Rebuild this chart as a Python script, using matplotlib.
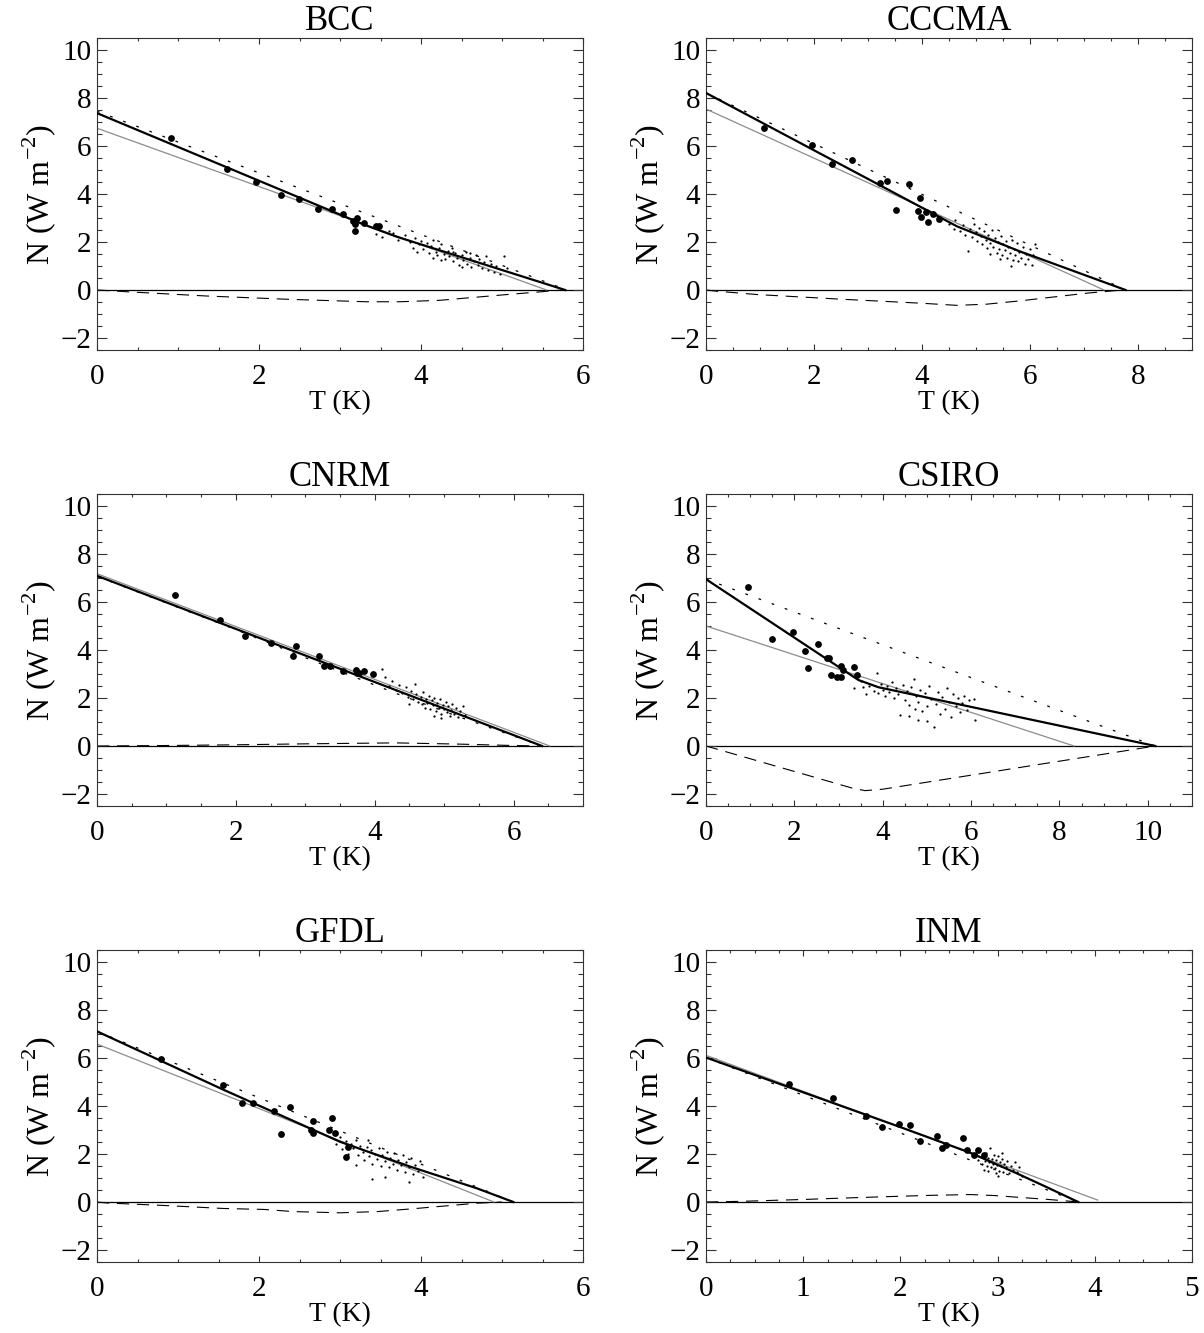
"""Six-panel N vs T regression plots (CMIP-style abrupt4xCO2 fits)."""

import matplotlib.pyplot as plt
from matplotlib.ticker import MultipleLocator

plt.rcParams["font.family"] = ["Liberation Serif", "DejaVu Serif"]
plt.rcParams["axes.unicode_minus"] = True
plt.rcParams["mathtext.fontset"] = "custom"
plt.rcParams["mathtext.rm"] = "Liberation Serif"

# ---- data, (T [K], N [W m-2]) pairs ----

BCC_FIT = [(0, 7.37), (3.3, 2.72), (3.7, 2.22), (5.78, 0)]
BCC_GRAY = [(0, 6.74), (5.55, 0)]
BCC_DOTTED = [(0, 7.45), (5.8, 0)]
BCC_DASHED = [(0, 0), (0.41, -0.08), (1.35, -0.25), (2.38, -0.39), (3.33, -0.49),
              (3.74, -0.49), (4.23, -0.43), (5.06, -0.19), (5.75, 0)]
BCC_BIG = [(0.91, 6.34), (1.60, 5.03), (1.96, 4.49), (2.27, 3.96), (2.49, 3.80),
           (2.73, 3.36), (2.90, 3.36), (3.04, 3.16), (3.21, 3.02), (3.16, 2.89),
           (3.18, 2.75), (3.19, 2.47), (3.30, 2.79), (3.44, 2.65), (3.48, 2.67)]
BCC_SMALL = [(3.45, 2.35), (3.52, 2.2), (3.6, 2.45), (3.66, 2.38), (3.72, 2.1), (3.8, 2.28),
             (3.86, 1.98), (3.9, 1.75), (3.93, 2.15), (3.97, 1.9), (4.0, 2.05), (4.03, 1.7),
             (4.07, 1.95), (4.1, 1.55), (4.12, 1.82), (4.15, 2.1), (4.18, 1.6), (4.2, 1.45),
             (4.22, 1.75), (4.25, 1.9), (4.28, 1.5), (4.3, 1.3), (4.33, 1.62), (4.35, 1.4),
             (4.38, 1.75), (4.4, 1.2), (4.42, 1.55), (4.45, 1.35), (4.47, 1.05), (4.5, 1.45),
             (4.52, 1.25), (4.55, 1.6), (4.57, 1.1), (4.6, 1.35), (4.62, 0.95), (4.65, 1.2),
             (4.68, 1.45), (4.7, 1.05), (4.72, 1.3), (4.75, 0.9), (4.78, 1.15), (4.8, 1.4),
             (4.83, 0.85), (4.86, 1.1), (4.9, 0.75), (4.93, 1.0), (4.97, 0.65), (5.02, 1.42),
             (5.06, 0.9), (4.6, 1.55), (4.4, 1.6), (4.15, 1.35), (3.95, 1.6), (4.5, 0.95),
             (4.25, 1.25)]

CCCMA_FIT = [(0, 8.21), (3.4, 4.15), (4.65, 2.65), (5.8, 1.62), (7.77, 0)]
CCCMA_GRAY = [(0, 7.54), (7.37, 0)]
CCCMA_DOTTED = [(0, 8.21), (7.77, 0)]
CCCMA_DASHED = [(0, 0), (0.2, -0.05), (0.95, -0.19), (1.75, -0.29), (2.56, -0.39),
                (3.36, -0.48), (3.98, -0.55), (4.65, -0.64), (5.2, -0.59), (5.83, -0.45),
                (6.44, -0.29), (7.06, -0.13), (7.56, -0.03), (7.77, 0)]
CCCMA_BIG = [(1.08, 6.76), (1.96, 6.06), (2.33, 5.23), (2.70, 5.40), (3.22, 4.45),
             (3.35, 4.53), (3.75, 4.41), (3.52, 3.33), (3.96, 3.82), (3.93, 3.28),
             (3.98, 3.05), (4.07, 3.26), (4.21, 3.18), (4.11, 2.83), (4.31, 2.94)]
CCCMA_SMALL = [(4.5, 2.75), (4.6, 2.55), (4.62, 2.9), (4.7, 2.45), (4.75, 2.7), (4.8, 2.3),
               (4.85, 1.64), (4.88, 2.55), (4.92, 2.2), (4.96, 2.75), (5.0, 2.4), (5.02, 2.05),
               (5.06, 2.6), (5.1, 2.25), (5.12, 1.9), (5.15, 2.45), (5.18, 2.1), (5.2, 1.75),
               (5.23, 2.3), (5.26, 1.95), (5.3, 2.5), (5.32, 1.8), (5.35, 2.15), (5.38, 1.55),
               (5.4, 2.0), (5.43, 1.7), (5.46, 2.25), (5.48, 1.45), (5.5, 1.9), (5.53, 1.65),
               (5.56, 2.05), (5.58, 1.35), (5.6, 1.8), (5.63, 1.55), (5.66, 2.1), (5.68, 1.25),
               (5.7, 1.7), (5.73, 1.45), (5.76, 1.95), (5.78, 1.2), (5.8, 1.6), (5.84, 1.35),
               (5.87, 1.8), (5.9, 1.1), (5.93, 1.5), (5.96, 1.3), (6.0, 1.7), (6.03, 1.05),
               (6.06, 1.45), (6.1, 1.9), (5.45, 1.3), (5.25, 1.5), (5.65, 1.0)]

CNRM_FIT = [(0, 7.09), (6.41, 0)]
CNRM_GRAY = [(0, 7.18), (6.52, 0)]
CNRM_DOTTED = [(0, 7.07), (2.0, 4.85), (3.0, 3.68), (4.3, 2.2), (5.2, 1.23), (6.41, 0)]
CNRM_DASHED = [(0, 0), (1.0, 0.02), (2.0, 0.05), (3.0, 0.09), (4.3, 0.13), (5.2, 0.08),
               (6.0, 0.02), (6.41, 0)]
CNRM_BIG = [(1.13, 6.30), (1.77, 5.27), (2.13, 4.60), (2.50, 4.30), (2.87, 4.18),
            (2.83, 3.76), (3.20, 3.76), (3.27, 3.34), (3.35, 3.33), (3.54, 3.14),
            (3.73, 3.16), (3.75, 3.03), (3.78, 3.05), (3.84, 3.11), (3.98, 3.02)]
CNRM_SMALL = [(4.1, 3.2), (4.15, 2.86), (4.2, 2.5), (4.25, 2.7), (4.3, 2.35), (4.35, 2.55),
              (4.4, 2.2), (4.45, 2.45), (4.48, 2.05), (4.52, 2.3), (4.55, 1.95), (4.58, 2.6),
              (4.6, 2.15), (4.63, 1.85), (4.66, 2.05), (4.68, 1.75), (4.7, 2.25), (4.72, 1.6),
              (4.74, 1.95), (4.76, 1.8), (4.78, 2.1), (4.8, 1.55), (4.82, 1.9), (4.84, 1.7),
              (4.86, 2.0), (4.88, 1.45), (4.9, 1.8), (4.92, 1.6), (4.94, 1.95), (4.96, 1.35),
              (4.98, 1.7), (5.0, 1.55), (5.02, 1.85), (5.04, 1.4), (5.06, 1.65), (5.08, 1.25),
              (5.1, 1.5), (5.12, 1.75), (5.14, 1.35), (5.17, 1.6), (5.2, 1.2), (5.23, 1.45),
              (5.27, 1.65), (5.3, 1.3), (4.95, 1.15), (4.85, 1.25), (4.5, 1.75)]

CSIRO_FIT = [(0, 6.95), (3.45, 2.75), (3.9, 2.45), (10.17, 0)]
CSIRO_GRAY = [(0, 5.0), (8.33, 0)]
CSIRO_DOTTED = [(0, 6.95), (10.17, 0)]
CSIRO_DASHED = [(0, 0), (3.3, -1.75), (3.6, -1.86), (4.0, -1.8), (10.17, 0)]
CSIRO_BIG = [(0.96, 6.62), (1.50, 4.45), (1.96, 4.75), (2.25, 3.94), (2.31, 3.24),
             (2.54, 4.25), (2.73, 3.65), (2.79, 3.68), (2.83, 2.95), (2.96, 2.89),
             (3.05, 2.89), (3.05, 3.32), (3.09, 3.17), (3.36, 3.30), (3.41, 2.95)]
CSIRO_SMALL = [(3.36, 2.41), (3.5, 2.7), (3.55, 2.45), (3.63, 2.17), (3.7, 2.5), (3.8, 2.3),
               (3.88, 3.06), (3.9, 2.2), (3.95, 2.6), (4.0, 2.35), (4.05, 2.1), (4.1, 2.5),
               (4.15, 2.25), (4.2, 2.65), (4.25, 2.0), (4.3, 2.4), (4.35, 2.15), (4.4, 1.3),
               (4.45, 2.55), (4.5, 1.9), (4.55, 2.3), (4.6, 1.7), (4.65, 2.45), (4.7, 2.78),
               (4.72, 1.55), (4.75, 2.1), (4.8, 1.85), (4.85, 2.35), (4.9, 1.45), (4.95, 2.2),
               (5.0, 1.65), (5.05, 2.5), (5.1, 1.95), (5.15, 0.79), (5.2, 1.75), (5.25, 2.25),
               (5.3, 1.35), (5.35, 2.05), (5.4, 1.55), (5.45, 2.4), (5.5, 1.85), (5.55, 1.2),
               (5.6, 2.15), (5.65, 1.65), (5.7, 2.0), (5.75, 1.4), (5.8, 1.8), (5.85, 2.1),
               (5.9, 1.5), (5.95, 1.9), (6.08, 1.07), (6.06, 1.94), (4.6, 1.25), (5.0, 1.05),
               (4.8, 1.1)]

GFDL_FIT = [(0, 7.11), (1.56, 4.68), (3.0, 2.51), (3.87, 1.47), (4.69, 0.57), (5.14, 0)]
GFDL_GRAY = [(0, 6.58), (4.9, 0)]
GFDL_DOTTED = [(0, 7.11), (5.14, 0)]
GFDL_DASHED = [(0, 0), (0.12, -0.04), (0.86, -0.15), (1.56, -0.27), (2.06, -0.31),
               (2.43, -0.40), (3.0, -0.45), (3.46, -0.40), (3.87, -0.29), (4.28, -0.17),
               (4.69, -0.05), (5.0, 0)]
GFDL_BIG = [(0.79, 5.95), (1.56, 4.87), (1.79, 4.14), (1.92, 4.12), (2.19, 3.80),
            (2.27, 2.83), (2.38, 3.96), (2.67, 3.38), (2.64, 2.99), (2.67, 2.89),
            (2.90, 3.50), (2.87, 3.02), (2.94, 2.89), (3.10, 2.30), (3.08, 1.87)]
GFDL_SMALL = [(2.95, 2.4), (3.0, 2.7), (3.03, 2.2), (3.07, 2.55), (3.1, 2.0), (3.13, 2.4),
              (3.16, 2.25), (3.2, 2.6), (3.22, 1.95), (3.25, 2.35), (3.28, 2.1), (3.3, 1.75),
              (3.33, 2.3), (3.36, 1.9), (3.38, 2.15), (3.4, 1.6), (3.43, 2.0), (3.46, 1.8),
              (3.48, 2.25), (3.5, 1.5), (3.52, 1.95), (3.55, 1.7), (3.58, 2.1), (3.6, 1.45),
              (3.62, 1.85), (3.65, 1.6), (3.67, 2.05), (3.7, 1.35), (3.72, 1.75), (3.75, 1.55),
              (3.78, 1.95), (3.8, 1.25), (3.82, 1.65), (3.85, 1.45), (3.88, 1.85), (3.9, 1.15),
              (3.93, 1.55), (3.96, 1.3), (3.99, 1.7), (4.02, 1.05), (3.55, 1.05), (3.4, 0.95),
              (3.85, 0.85), (3.2, 1.55), (3.35, 2.6)]

INM_FIT = [(0, 6.02), (2.0, 3.12), (2.72, 2.05), (3.2, 1.19), (3.51, 0.61), (3.83, 0)]
INM_GRAY = [(0, 6.11), (4.03, 0.08)]
INM_DOTTED = [(0, 6.02), (3.83, 0)]
INM_DASHED = [(0, 0), (0.39, 0.03), (0.7, 0.07), (1.04, 0.11), (1.38, 0.16), (1.69, 0.20),
              (2.0, 0.24), (2.34, 0.28), (2.72, 0.31), (2.96, 0.27), (3.2, 0.20),
              (3.51, 0.11), (3.75, 0.03), (3.83, 0)]
INM_BIG = [(0.85, 4.92), (1.31, 4.34), (1.65, 3.58), (1.81, 3.11), (1.99, 3.24),
           (2.10, 3.21), (2.20, 2.53), (2.38, 2.73), (2.43, 2.27), (2.47, 2.37),
           (2.64, 2.65), (2.69, 2.15), (2.76, 1.95), (2.80, 2.15), (2.86, 1.94)]
INM_SMALL = [(2.78, 2.0), (2.8, 1.75), (2.82, 2.15), (2.84, 1.6), (2.85, 1.9), (2.87, 1.7),
             (2.88, 2.05), (2.89, 1.5), (2.9, 1.85), (2.91, 1.65), (2.92, 2.27), (2.93, 1.45),
             (2.94, 1.8), (2.95, 1.6), (2.96, 1.95), (2.97, 1.4), (2.98, 1.75), (2.99, 1.55),
             (3.0, 1.9), (3.01, 1.3), (3.02, 1.65), (3.03, 1.5), (3.05, 1.8), (3.06, 1.25),
             (3.07, 1.6), (3.09, 1.45), (3.1, 1.7), (3.12, 1.2), (3.14, 1.5), (3.16, 1.35),
             (3.18, 1.65), (3.2, 1.25), (3.22, 1.45), (3.25, 1.1), (3.0, 1.07), (2.9, 1.3),
             (3.05, 2.05), (2.86, 1.35), (2.98, 1.2)]

# name, x max, x major step, curves
PANELS = [
    ("BCC", 6, 2, BCC_FIT, BCC_GRAY, BCC_DOTTED, BCC_DASHED, BCC_BIG, BCC_SMALL),
    ("CCCMA", 9, 2, CCCMA_FIT, CCCMA_GRAY, CCCMA_DOTTED, CCCMA_DASHED, CCCMA_BIG, CCCMA_SMALL),
    ("CNRM", 7, 2, CNRM_FIT, CNRM_GRAY, CNRM_DOTTED, CNRM_DASHED, CNRM_BIG, CNRM_SMALL),
    ("CSIRO", 11, 2, CSIRO_FIT, CSIRO_GRAY, CSIRO_DOTTED, CSIRO_DASHED, CSIRO_BIG, CSIRO_SMALL),
    ("GFDL", 6, 2, GFDL_FIT, GFDL_GRAY, GFDL_DOTTED, GFDL_DASHED, GFDL_BIG, GFDL_SMALL),
    ("INM", 5, 1, INM_FIT, INM_GRAY, INM_DOTTED, INM_DASHED, INM_BIG, INM_SMALL),
]

FIG_W, FIG_H = 1204, 1333
COL_LEFT = [97, 706]
ROW_TOP = [38, 494, 950]
AX_W, AX_H = 486, 312


def xy(points):
    return [p[0] for p in points], [p[1] for p in points]


def draw_panel(ax, name, xmax, xstep, fit, gray, dotted, dashed, big, small):
    ax.plot([0, xmax], [0, 0], color="black", lw=0.9, zorder=1)
    ax.plot(*xy(dashed), color="black", lw=0.8, linestyle=(0, (11, 7)), zorder=2)
    ax.plot(*xy(dotted), color="black", lw=0.9, linestyle=(0, (2.2, 9)), zorder=2)
    ax.plot(*xy(gray), color="#8c8c8c", lw=0.9, zorder=2)
    ax.plot(*xy(fit), color="black", lw=1.6, zorder=3)
    ax.scatter(*xy(small), s=2.6, color="black", linewidths=0, zorder=4)
    ax.scatter(*xy(big), s=24, color="black", linewidths=0, zorder=5)

    ax.set_xlim(0, xmax)
    ax.set_ylim(-2.5, 10.5)
    ax.xaxis.set_major_locator(MultipleLocator(xstep))
    ax.xaxis.set_minor_locator(MultipleLocator(xstep / 4))
    ax.yaxis.set_major_locator(MultipleLocator(2))
    ax.yaxis.set_minor_locator(MultipleLocator(0.5))
    ax.tick_params(which="both", direction="in", top=True, right=True,
                   labelsize=21, color="#333333", width=0.8)
    ax.tick_params(axis="x", which="major", length=4.5, pad=10)
    ax.tick_params(axis="x", which="minor", length=2.2)
    ax.tick_params(axis="y", which="major", length=7.2, pad=4)
    ax.tick_params(axis="y", which="minor", length=3.8)
    for spine in ax.spines.values():
        spine.set_linewidth(0.8)
        spine.set_color("#333333")

    ax.set_title(name, fontsize=25, pad=5)
    ax.set_xlabel("T (K)", fontsize=20, labelpad=0)
    ax.set_ylabel("N (W m$^{-2}$)", fontsize=23, labelpad=2)


def main():
    fig = plt.figure(figsize=(FIG_W / 100, FIG_H / 100), dpi=100)
    for idx, panel in enumerate(PANELS):
        row, col = divmod(idx, 2)
        rect = [COL_LEFT[col] / FIG_W, 1 - (ROW_TOP[row] + AX_H) / FIG_H,
                AX_W / FIG_W, AX_H / FIG_H]
        ax = fig.add_axes(rect)
        draw_panel(ax, *panel)
    fig.savefig("out.png", dpi=100)
    plt.close(fig)


if __name__ == "__main__":
    main()
